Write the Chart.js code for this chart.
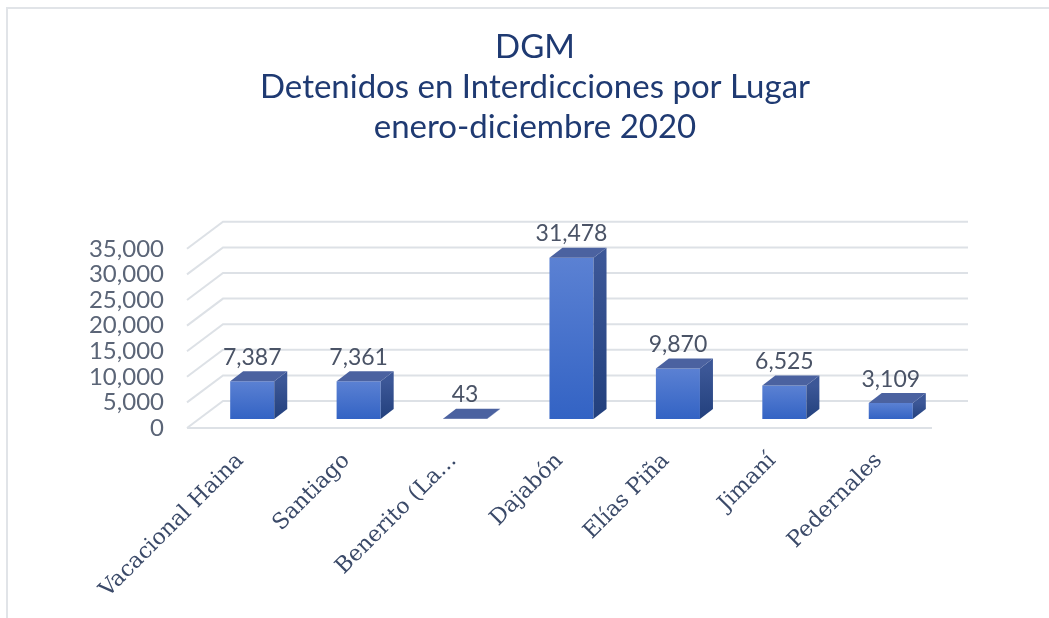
<!DOCTYPE html>
<html>
<head>
<meta charset="utf-8">
<script src="https://cdn.jsdelivr.net/npm/chart.js@4/dist/chart.umd.min.js"></script>
<style>
  html, body { margin: 0; padding: 0; background: #fff; }
  #wrap { width: 1049px; height: 618px; }
</style>
</head>
<body>
<div id="wrap"><canvas id="BarChart" width="1049" height="618"></canvas></div>
<script>
// data
var categories = ["Vacacional Haina", "Santiago", "Benerito (La...", "Dajabón", "Elías Piña", "Jimaní", "Pedernales"];
var detenidos = [7387, 7361, 43, 31478, 9870, 6525, 3109];
var titleLines = ["DGM", "Detenidos en Interdicciones por Lugar", "enero-diciembre 2020"];
var yMax = 35000;
var yStep = 5000;

// 3d look: wall depth and bar depth (pixels)
var wallDX = 36, wallDY = 27;
var barOffX = 12, barOffY = 9;
var barDX = 13, barDY = 10;

var gridColor = "#dde1e6";

var frame3d = {
    id: "frame3d",
    afterLayout: function (chart) {
        // let the y labels use the room left of the axis (they are clipped to the scale box)
        var s = chart.scales.y;
        s.left = 0;
        s.width = s.right;
    },
    beforeDraw: function (chart) {
        var ctx = chart.ctx;
        ctx.save();
        ctx.fillStyle = "#fff";
        ctx.fillRect(0, 0, chart.width, chart.height);
        ctx.strokeStyle = "#e1e4e8";
        ctx.lineWidth = 2;
        ctx.beginPath();
        ctx.moveTo(7, chart.height);
        ctx.lineTo(7, 8);
        ctx.lineTo(chart.width, 8);
        ctx.stroke();
        ctx.restore();
    },
    beforeDatasetsDraw: function (chart) {
        var ctx = chart.ctx;
        var y = chart.scales.y;
        var a = chart.chartArea;
        ctx.save();
        ctx.strokeStyle = gridColor;
        ctx.lineWidth = 2;
        y.ticks.forEach(function (t) {
            var py = y.getPixelForValue(t.value);
            ctx.beginPath();
            ctx.moveTo(a.left, py);
            ctx.lineTo(a.left + wallDX, py - wallDY);
            ctx.lineTo(a.right + wallDX, py - wallDY);
            ctx.stroke();
        });
        var y0 = y.getPixelForValue(0);
        ctx.beginPath();
        ctx.moveTo(a.left, y0);
        ctx.lineTo(a.right, y0);
        ctx.stroke();
        ctx.restore();

        // bars sit in the middle of the depth
        ctx.save();
        ctx.translate(barOffX, -barOffY);
    },
    afterDatasetsDraw: function (chart) {
        var ctx = chart.ctx;
        var meta = chart.getDatasetMeta(0);
        meta.data.forEach(function (bar) {
            var l = bar.x - bar.width / 2, r = bar.x + bar.width / 2;
            var t = bar.y, b = bar.base;
            // side
            var g = ctx.createLinearGradient(0, t, 0, Math.max(b, t + 1));
            g.addColorStop(0, "#3c5797");
            g.addColorStop(1, "#22407d");
            ctx.fillStyle = g;
            ctx.beginPath();
            ctx.moveTo(r, t);
            ctx.lineTo(r + barDX, t - barDY);
            ctx.lineTo(r + barDX, b - barDY);
            ctx.lineTo(r, b);
            ctx.closePath();
            ctx.fill();
            // top
            ctx.fillStyle = "#4b62a0";
            ctx.beginPath();
            ctx.moveTo(l, t);
            ctx.lineTo(l + barDX, t - barDY);
            ctx.lineTo(r + barDX, t - barDY);
            ctx.lineTo(r, t);
            ctx.closePath();
            ctx.fill();
        });
        ctx.restore();

        // value labels
        ctx.save();
        ctx.font = "23px Lato";
        ctx.fillStyle = "#4a5366";
        ctx.textAlign = "center";
        ctx.textBaseline = "middle";
        meta.data.forEach(function (bar, i) {
            ctx.fillText(detenidos[i].toLocaleString("en-US"), bar.x + barOffX, bar.y - 33);
        });
        ctx.restore();
    }
};

function frontFill(c) {
    var sy = c.chart.scales.y;
    if (c.type !== "data" || !sy) return "#4a74cc";
    var top = sy.getPixelForValue(c.raw);
    var bot = sy.getPixelForValue(0);
    if (!isFinite(top) || !isFinite(bot)) return "#4a74cc";
    if (bot - top < 2) return "#4b62a0";
    var g = c.chart.ctx.createLinearGradient(0, top, 0, bot);
    g.addColorStop(0, "#5b81d3");
    g.addColorStop(1, "#3363c4");
    return g;
}

var ctx = document.getElementById("BarChart").getContext("2d");
var myChart = new Chart(ctx, {
    type: "bar",
    data: {
        labels: categories,
        datasets: [
            {
                data: detenidos,
                clip: false,
                barPercentage: 0.414,
                categoryPercentage: 1,
                borderWidth: 0,
                backgroundColor: frontFill
            }
        ]
    },
    options: {
        responsive: false,
        animation: false,
        layout: { padding: { left: 138, right: 117, top: 0, bottom: 0 } },
        plugins: {
            legend: { display: false },
            tooltip: { enabled: false },
            title: {
                display: true,
                text: titleLines,
                color: "#1f3a72",
                font: { family: "Lato", size: 33, weight: "normal", lineHeight: 1.2 },
                padding: { top: 28, bottom: 102 }
            }
        },
        scales: {
            x: {
                grid: { display: false, drawTicks: false },
                border: { display: false },
                afterFit: function (s) { s.height = 190; },
                ticks: {
                    autoSkip: false,
                    minRotation: 45,
                    maxRotation: 45,
                    padding: 20,
                    color: "#3b4a69",
                    font: { family: "DejaVu Serif", size: 22 }
                }
            },
            y: {
                min: 0,
                max: yMax,
                grid: { display: false, drawTicks: false },
                border: { display: false },
                afterFit: function (s) { s.width = 49; },
                ticks: {
                    stepSize: yStep,
                    autoSkip: false,
                    padding: 23,
                    color: "#5b6577",
                    font: { family: "Lato", size: 24 },
                    callback: function (v) { return v.toLocaleString("en-US"); }
                }
            }
        }
    },
    plugins: [frame3d]
});
</script>
</body>
</html>
